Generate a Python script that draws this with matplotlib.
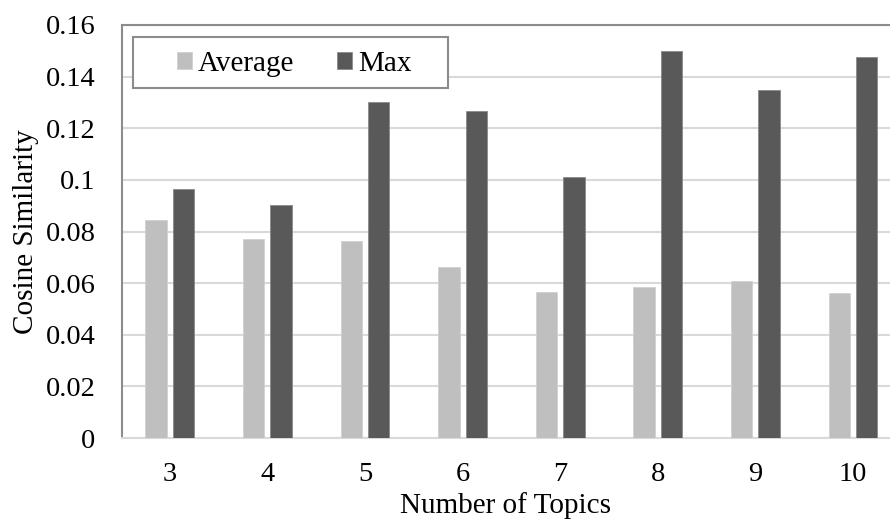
import matplotlib
matplotlib.use("Agg")
import matplotlib.pyplot as plt
from matplotlib.patches import Rectangle
import numpy as np

# values
topics = ["3", "4", "5", "6", "7", "8", "9", "10"]
average = [0.0845, 0.0770, 0.0765, 0.0664, 0.0565, 0.0584, 0.0609, 0.0561]
maximum = [0.0965, 0.0903, 0.1302, 0.1267, 0.1010, 0.1501, 0.1349, 0.1476]
y_ticks = [0, 0.02, 0.04, 0.06, 0.08, 0.10, 0.12, 0.14, 0.16]
y_tick_labels = ["0", "0.02", "0.04", "0.06", "0.08", "0.1", "0.12", "0.14", "0.16"]

plt.rcParams["font.family"] = ["Liberation Serif", "DejaVu Serif"]

W, H = 890, 519
ax_l, ax_b, ax_w, ax_h = 122, 81, 768, 413  # pixels
fig = plt.figure(figsize=(W / 100, H / 100), dpi=100)
ax = fig.add_axes([ax_l / W, ax_b / H, ax_w / W, ax_h / H])

x = np.arange(len(topics))
w = 0.22
ax.bar(x - 0.14, average, w, color="#bfbfbf", edgecolor="#d0d0d0",
       linewidth=0.6, label="Average", zorder=3)
ax.bar(x + 0.14, maximum, w, color="#595959", edgecolor="#8a8a8a",
       linewidth=0.6, label="Max", zorder=3)

ax.set_xlim(-0.49, -0.49 + ax_w / 97.6)
ax.set_ylim(0, 0.16)
ax.set_yticks(y_ticks)
ax.set_yticklabels(y_tick_labels)
ax.set_xticks(x)
ax.set_xticklabels(topics)
ax.tick_params(axis="both", length=0, labelsize=20.5, colors="black")
ax.tick_params(axis="y", pad=19)
ax.tick_params(axis="x", pad=17)

ax.grid(axis="y", color="#d9d9d9", lw=1.5, zorder=0)
ax.set_axisbelow(True)
ax.spines["right"].set_visible(False)
for side in ["top", "left"]:
    ax.spines[side].set_color("#8c8c8c")
    ax.spines[side].set_linewidth(1.5)
ax.spines["bottom"].set_color("#d9d9d9")
ax.spines["bottom"].set_linewidth(1.5)

ax.set_xlabel("Number of Topics", fontsize=21, labelpad=4)
ax.set_ylabel("Cosine Similarity", fontsize=21, labelpad=5)

# legend box drawn separately so its padding matches the reference
def px_to_ax(px, py):
    return (px - ax_l) / ax_w, (H - ax_b - py) / ax_h

bx0, by0 = px_to_ax(133, 88)
bx1, by1 = px_to_ax(448, 37)
ax.add_patch(Rectangle((bx0, by0), bx1 - bx0, by1 - by0, transform=ax.transAxes,
                       facecolor="white", edgecolor="#8c8c8c", lw=1.5,
                       zorder=5, clip_on=False))
lx, ly = px_to_ax(177, 64)
leg = ax.legend(loc="center left", bbox_to_anchor=(lx, ly), borderaxespad=0,
                borderpad=0, ncol=2, fontsize=21, frameon=False,
                handlelength=0.52, handleheight=0.52, handletextpad=0.2,
                columnspacing=1.47)
leg.set_zorder(6)

fig.savefig("out.png", dpi=100)
